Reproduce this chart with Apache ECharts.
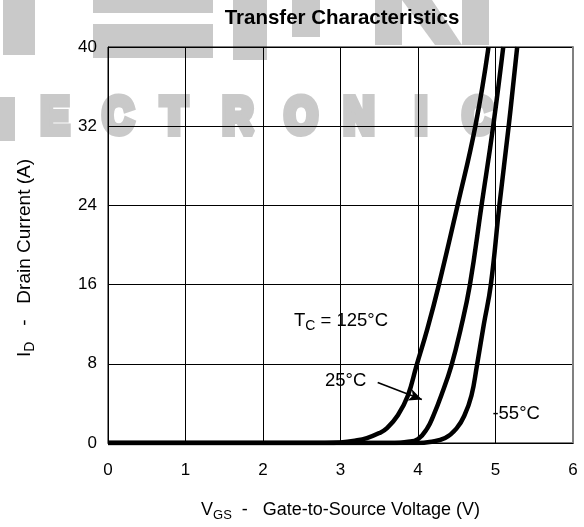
<!DOCTYPE html>
<html>
<head>
<meta charset="utf-8">
<script src="https://cdn.jsdelivr.net/npm/echarts@6/dist/echarts.min.js"></script>
<style>
html,body{margin:0;padding:0;background:#fff;}
#chart{width:584px;height:527px;}
</style>
</head>
<body>
<div id="chart"></div>
<script>
// ---- data ----
const xTicks = [0, 1, 2, 3, 4, 5, 6];
const yTicks = [0, 8, 16, 24, 32, 40];

const vgs125 = [0, 2.8, 3.0, 3.2, 3.34, 3.5, 3.6, 3.74, 3.87, 3.98, 4.12, 4.27, 4.51, 4.74, 4.91];
const id125  = [0, 0, 0.05, 0.25, 0.5, 1.0, 1.5, 2.8, 4.8, 7.8, 11.5, 16, 24, 32, 40];

const vgs25 = [0, 3.7, 3.85, 4.0, 4.12, 4.2, 4.3, 4.43, 4.55, 4.67, 4.82, 4.97, 5.1];
const id25  = [0, 0, 0.1, 0.4, 1.5, 2.8, 4.8, 7.8, 11.5, 16, 24, 32, 40];

const vgsM55 = [0, 4.0, 4.15, 4.35, 4.5, 4.6, 4.69, 4.76, 4.85, 4.94, 5.05, 5.17, 5.28];
const idM55  = [0, 0, 0.1, 0.5, 1.5, 2.8, 4.8, 7.8, 12, 16, 24, 32, 40];

const arrowFrom = [3.48, 6.1];
const arrowTo = [4.05, 4.4];

const annotations = [
  {key: 'tc', v: 2.4, a: 12.3},
  {key: '25', v: 2.8, a: 6.3},
  {key: 'm55', v: 4.96, a: 2.9}
];

const FONT = '"Liberation Sans", Arial, Helvetica, sans-serif';
const GRAY = '#c9c9c9';

function zip(xs, ys) { return xs.map((x, i) => [x, ys[i]]); }

const chart = echarts.init(document.getElementById('chart'), null, {renderer: 'canvas'});

// watermark (decorative background)
const wmLetters = [
  ['E', 55], ['C', 118], ['T', 174], ['R', 238], ['O', 301], ['N', 359], ['I', 421], ['C', 478]
];
const watermark = [
  {type: 'rect', z: -10, shape: {x: 3, y: 0, width: 32, height: 55}, style: {fill: GRAY}, silent: true},
  {type: 'rect', z: -10, shape: {x: 93, y: 0, width: 120, height: 13}, style: {fill: GRAY}, silent: true},
  {type: 'rect', z: -10, shape: {x: 93, y: 24, width: 120, height: 34}, style: {fill: GRAY}, silent: true},
  {type: 'rect', z: -10, shape: {x: 233, y: 0, width: 34, height: 60}, style: {fill: GRAY}, silent: true},
  {type: 'rect', z: -10, shape: {x: 292, y: 0, width: 28, height: 37}, style: {fill: GRAY}, silent: true},
  {type: 'rect', z: -10, shape: {x: 375, y: 0, width: 27, height: 45}, style: {fill: GRAY}, silent: true},
  {type: 'rect', z: -10, shape: {x: 462, y: 0, width: 27, height: 45}, style: {fill: GRAY}, silent: true},
  {type: 'polygon', z: -10, shape: {points: [[402, 0], [432, 0], [462, 45], [435, 45]]}, style: {fill: GRAY}, silent: true},
  {type: 'rect', z: -10, shape: {x: 0, y: 97, width: 15, height: 44}, style: {fill: GRAY}, silent: true}
].concat(wmLetters.map(([ch, cx]) => ({
  type: 'text', z: -10, silent: true, x: cx, y: 119, scaleX: 0.84,
  style: {text: ch, x: 0, y: 0, fill: GRAY, stroke: GRAY, lineWidth: 8, lineJoin: 'miter',
    fontSize: 50, fontWeight: 'bold', fontFamily: FONT,
    textAlign: 'center', textVerticalAlign: 'middle', align: 'center', verticalAlign: 'middle'}
})));

const lineStyle = {color: '#000', width: 4.5};
function series(name, xs, ys, extra) {
  return Object.assign({
    name, type: 'line', data: zip(xs, ys), showSymbol: false, symbol: 'none',
    smooth: 0.45, lineStyle, itemStyle: {color: '#000'},
    silent: true, clip: true, z: 5
  }, extra || {});
}

const option = {
  animation: false,
  backgroundColor: '#fff',
  textStyle: {fontFamily: FONT, color: '#000'},
  title: {
    text: 'Transfer Characteristics',
    left: 342, top: 8, textAlign: 'center', padding: 0,
    textStyle: {fontFamily: FONT, fontSize: 20.5, fontWeight: 'bold', color: '#000'}
  },
  grid: {left: 108, right: 11, top: 47, bottom: 79, show: true, borderColor: '#000', borderWidth: 1, backgroundColor: 'transparent'},
  xAxis: {
    type: 'value', min: 0, max: 6, interval: 1,
    axisLine: {show: true, lineStyle: {color: '#000', width: 1}},
    axisTick: {show: false},
    splitLine: {show: true, lineStyle: {color: '#000', width: 1}},
    axisLabel: {color: '#000', fontSize: 17, fontFamily: FONT, margin: 19,
      formatter: v => xTicks.includes(v) ? String(v) : ''},
    name: '{a|V}{sub|GS}{a|  -   Gate-to-Source Voltage (V)}',
    nameLocation: 'middle', nameGap: 56,
    nameTextStyle: {rich: {
      a: {fontSize: 18, fontFamily: FONT, color: '#000'},
      sub: {fontSize: 13, fontFamily: FONT, color: '#000', padding: [10, 0, 0, 0]}
    }}
  },
  yAxis: [{
    type: 'value', min: 0, max: 40, interval: 8,
    axisLine: {show: true, lineStyle: {color: '#000', width: 1}},
    axisTick: {show: false},
    splitLine: {show: true, lineStyle: {color: '#000', width: 1}},
    axisLabel: {color: '#000', fontSize: 17, fontFamily: FONT, margin: 11,
      formatter: v => yTicks.includes(v) ? String(v) : ''},
    name: '{a|I}{sub|D}{a|   -   Drain Current (A)}',
    nameLocation: 'middle', nameGap: 71, nameRotate: 90,
    nameTextStyle: {padding: [0, 26, 0, 0], rich: {
      a: {fontSize: 19, fontFamily: FONT, color: '#000'},
      sub: {fontSize: 14, fontFamily: FONT, color: '#000', padding: [10, 0, 0, 0]}
    }}
  }, {
    type: 'value', min: 0, max: 40, interval: 8, position: 'right',
    axisLine: {show: true, lineStyle: {color: '#808080', width: 2}},
    axisTick: {show: false}, axisLabel: {show: false}, splitLine: {show: false}
  }],
  series: [
    series('125', vgs125, id125, {
      markLine: {
        silent: true, symbol: ['none', 'arrow'], symbolSize: [9, 13],
        lineStyle: {color: '#000', width: 1.6, type: 'solid'},
        label: {show: false}, emphasis: {disabled: true},
        data: [[{coord: arrowFrom}, {coord: arrowTo}]]
      }
    }),
    series('25', vgs25, id25),
    series('-55', vgsM55, idM55)
  ],
  graphic: watermark
};
chart.setOption(option);

// annotations anchored to data coordinates
const rich = {
  a: {fontSize: 18.5, fontFamily: FONT, color: '#000'},
  sub: {fontSize: 14, fontFamily: FONT, color: '#000', padding: [9, 0, 0, 0]}
};
const annText = {tc: '{a|T}{sub|C}{a| = 125°C}', '25': '{a|25°C}', m55: '{a|-55°C}'};
const annGraphics = annotations.map(an => {
  const p = chart.convertToPixel({xAxisIndex: 0, yAxisIndex: 0}, [an.v, an.a]);
  return {
    type: 'text', z: 20, silent: true, x: p[0], y: p[1],
    style: {text: annText[an.key], rich, textAlign: 'left', textVerticalAlign: 'middle', fill: '#000', fontSize: 18.5, fontFamily: FONT}
  };
});
chart.setOption({graphic: watermark.concat(annGraphics)});
</script>
</body>
</html>
